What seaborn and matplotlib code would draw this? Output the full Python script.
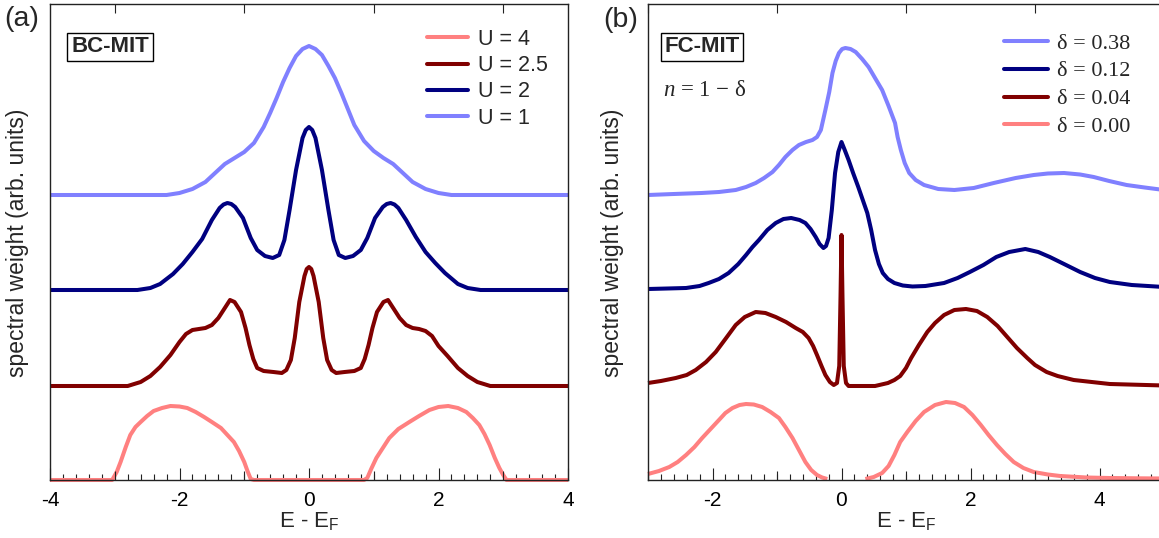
import numpy as np
import pandas as pd
import matplotlib
matplotlib.use("Agg")
import matplotlib.pyplot as plt
from matplotlib.lines import Line2D
from matplotlib.ticker import MultipleLocator, FuncFormatter, NullLocator
import seaborn as sns

# ---------------- data ----------------
# Panel (a): bandwidth-controlled MIT, heights above each curve's baseline
u_labels = ["U = 4", "U = 2.5", "U = 2", "U = 1"]
u_offsets = [0, 94, 190, 285]

u1_x = [-4.0, -2.2, -2.0, -1.8, -1.6, -1.45, -1.3, -1.15, -1.0, -0.85, -0.7, -0.6, -0.5,
        -0.4, -0.3, -0.2, -0.1, 0.0, 0.1, 0.2, 0.3, 0.4, 0.5, 0.6, 0.7, 0.85, 1.0, 1.15,
        1.3, 1.45, 1.6, 1.8, 2.0, 2.2, 4.0]
u1_h = [0, 0, 2, 6, 13, 22, 31, 37, 43, 52, 68, 82, 97, 113, 127, 139, 146, 149, 146,
        140, 129, 117, 102, 86, 70, 54, 44, 37, 31, 22, 13, 6, 2, 0, 0]

u2_x = [-4.0, -2.65, -2.45, -2.3, -2.1, -1.95, -1.8, -1.65, -1.5, -1.38, -1.32, -1.26,
        -1.2, -1.14, -1.02, -0.9, -0.8, -0.68, -0.56, -0.46, -0.38, -0.3, -0.2, -0.1,
        -0.05, 0.0, 0.05, 0.1, 0.2, 0.3, 0.38, 0.46, 0.56, 0.68, 0.8, 0.9, 1.02, 1.14,
        1.2, 1.26, 1.32, 1.38, 1.5, 1.65, 1.8, 1.95, 2.1, 2.3, 2.45, 2.65, 4.0]
u2_h = [0, 0, 2, 6, 16, 26, 38, 51, 70, 82, 85.5, 87, 86, 83, 72, 52, 40, 34, 32, 35, 50,
        80, 120, 152, 160, 163, 160, 152, 120, 80, 50, 35, 32, 34, 40, 52, 72, 83, 86, 87,
        85.5, 82, 70, 53, 38, 27, 17, 6, 2, 0, 0]

u25_x = [-4.0, -2.8, -2.6, -2.45, -2.3, -2.14, -2.0, -1.9, -1.8, -1.7, -1.6, -1.5, -1.4,
         -1.3, -1.22, -1.15, -1.05, -0.98, -0.92, -0.86, -0.8, -0.7, -0.55, -0.42, -0.35,
         -0.28, -0.22, -0.15, -0.07, -0.035, 0.0, 0.035, 0.07, 0.15, 0.22, 0.28, 0.35,
         0.42, 0.55, 0.7, 0.8, 0.86, 0.92, 0.98, 1.05, 1.15, 1.22, 1.3, 1.4, 1.5, 1.6,
         1.7, 1.8, 1.9, 2.0, 2.14, 2.3, 2.45, 2.6, 2.8, 4.0]
u25_h = [0, 0, 4, 10, 19, 31, 44, 52, 56, 57, 58, 61, 68, 78, 86, 84, 74, 58, 41, 27, 18,
         15, 14, 13, 16, 26, 48, 84, 110, 117, 119, 117, 110, 84, 48, 26, 16, 13, 14, 15,
         18, 27, 41, 58, 74, 84, 86, 78, 68, 61, 58, 57, 55, 50, 40, 30, 18, 10, 4, 0, 0]

u4_x = [-4.0, -3.04, -2.97, -2.91, -2.83, -2.76, -2.68, -2.6, -2.5, -2.4, -2.27, -2.14,
        -2.0, -1.88, -1.75, -1.62, -1.5, -1.36, -1.26, -1.16, -1.08, -1.0, -0.95, -0.9,
        -0.85, 0.85, 0.9, 0.96, 1.04, 1.14, 1.24, 1.38, 1.55, 1.7, 1.86, 2.0, 2.15, 2.3,
        2.43, 2.53, 2.63, 2.71, 2.79, 2.87, 2.94, 3.0, 3.05, 4.0]
u4_h = [0, 0, 8, 18, 33, 45, 53, 58, 64, 69, 72, 74, 73.5, 72, 68, 63, 58, 52, 45, 38, 29,
        18, 9, 1, 0, 0, 2, 11, 22, 32, 42, 51, 58, 64, 70, 73, 74, 72, 68, 62, 55, 46, 35,
        22, 12, 5, 0, 0]

# Panel (b): filling-controlled MIT
d_labels = ["\u03b4 = 0.38", "\u03b4 = 0.12", "\u03b4 = 0.04", "\u03b4 = 0.00"]
d_offsets = [285, 190, 94, 0]

d38_x = [-3.0, -2.6, -2.17, -1.9, -1.64, -1.48, -1.33, -1.2, -1.07, -0.97, -0.87, -0.76,
         -0.66, -0.55, -0.45, -0.38, -0.32, -0.25, -0.19, -0.14, -0.09, -0.04, 0.01, 0.06,
         0.14, 0.22, 0.32, 0.42, 0.52, 0.63, 0.73, 0.83, 0.87, 0.92, 0.98, 1.05, 1.15,
         1.28, 1.5, 1.75, 2.05, 2.36, 2.7, 2.98, 3.2, 3.45, 3.7, 3.91, 4.15, 4.42, 4.7, 5.0]
d38_h = [0, 1, 2, 3, 5, 8, 12, 17, 23, 30, 38, 45, 50, 53, 55, 58, 65, 85, 103, 122, 134,
         142, 146, 147, 146, 143, 136, 128, 117, 105, 89, 72, 58, 45, 32, 22, 15, 10, 6, 5,
         7, 12, 17, 20, 21.5, 22, 20.5, 18, 14, 10, 7.5, 5]

d12_x = [-3.0, -2.7, -2.41, -2.2, -2.06, -1.9, -1.75, -1.6, -1.48, -1.38, -1.28, -1.15,
         -1.02, -0.9, -0.78, -0.65, -0.56, -0.48, -0.4, -0.34, -0.28, -0.24, -0.2, -0.15,
         -0.1, -0.05, 0.0, 0.05, 0.11, 0.18, 0.26, 0.33, 0.4, 0.46, 0.52, 0.58, 0.64, 0.72,
         0.82, 0.95, 1.1, 1.3, 1.59, 1.8, 1.99, 2.2, 2.4, 2.6, 2.85, 3.05, 3.23, 3.45, 3.7,
         3.93, 4.16, 4.5, 5.0]
d12_h = [1, 1.5, 2, 4, 7, 11, 17, 26, 35, 43, 50, 60, 67, 71, 72, 70, 67, 61, 53, 46, 42,
         44, 52, 80, 117, 138, 148, 140, 130, 117, 103, 90, 77, 60, 40, 26, 17, 11, 7, 4.5,
         3.5, 4, 7, 12, 18, 25, 33, 38, 41, 38, 33, 26, 18, 12, 8, 5, 3]

d04_x = [-3.0, -2.8, -2.57, -2.4, -2.26, -2.1, -1.95, -1.8, -1.64, -1.5, -1.33, -1.18,
         -1.02, -0.86, -0.71, -0.6, -0.51, -0.44, -0.38, -0.31, -0.25, -0.18, -0.12, -0.07,
         -0.035, -0.015, 0.0, 0.015, 0.035, 0.07, 0.11, 0.3, 0.52, 0.72, 0.82, 0.91, 1.0,
         1.08, 1.2, 1.33, 1.45, 1.59, 1.75, 1.93, 2.1, 2.26, 2.42, 2.57, 2.72, 2.88, 3.0,
         3.18, 3.35, 3.6, 4.16, 5.0]
d04_h = [3, 5, 8, 11, 16, 24, 34, 47, 61, 69, 74, 73, 69, 64, 58, 54, 48, 40, 31, 20, 11,
         4, 1, 3, 20, 90, 151, 90, 20, 3, 0, 0, 0, 3, 6, 10, 18, 28, 41, 54, 63, 71, 76, 77,
         75, 69, 60, 49, 38, 28, 21, 14, 10, 6, 2, 0.5]

d00_x = [-3.0, -2.83, -2.67, -2.54, -2.41, -2.28, -2.16, -2.03, -1.9, -1.8, -1.69, -1.58,
         -1.48, -1.36, -1.23, -1.1, -0.97, -0.87, -0.76, -0.66, -0.56, -0.47, -0.38, -0.3,
         -0.22, 0.05, 0.37, 0.5, 0.63, 0.73, 0.82, 0.91, 1.02, 1.15, 1.28, 1.45, 1.62, 1.76,
         1.9, 2.03, 2.16, 2.28, 2.41, 2.54, 2.67, 2.82, 2.98, 3.2, 3.39, 3.8, 4.16, 4.6, 5.0]
d00_h = [6, 9, 13, 18, 25, 33, 42, 51, 60, 67, 72, 75, 76, 75.5, 73, 68, 62, 53, 42, 30,
         18, 10, 5, 2.5, 1, np.nan, 1, 3, 7, 14, 25, 38, 48, 59, 68, 75, 78, 77, 73, 65, 55,
         45, 35, 26, 18, 12, 8, 5.5, 4, 2.5, 2, 1.7, 1.5]

c_light = "#8080FF"
c_navy = "#000080"
c_dred = "#800000"
c_pink = "#FF8080"

# ---------------- style ----------------
sns.set_theme(style="white")
plt.rcParams.update({
    "font.family": ["Liberation Sans", "DejaVu Sans"],
    "mathtext.fontset": "custom",
    "mathtext.rm": "Liberation Sans",
    "mathtext.it": "Liberation Serif:italic",
    "mathtext.bf": "Liberation Sans:bold",
    "axes.linewidth": 1.0,
    "axes.edgecolor": "#222222",
})

W, H = 1159, 538
fig = plt.figure(figsize=(W / 100, H / 100), dpi=100)
ax1 = fig.add_axes([50 / W, 1 - 480 / H, 518 / W, 476 / H])
ax2 = fig.add_axes([648 / W, 1 - 480 / H, 516 / W, 476 / H])

LW = 2.9


def draw(ax, x, h, off, color):
    h = np.asarray(h, dtype=float)
    seg = np.cumsum(np.isnan(h))
    df = pd.DataFrame({"E": x, "A": h + off, "seg": seg}).dropna()
    sns.lineplot(data=df, x="E", y="A", units="seg", estimator=None, sort=False,
                 color=color, lw=LW, ax=ax, legend=False, clip_on=False,
                 solid_joinstyle="round", solid_capstyle="butt")


a_curves = [(u4_x, u4_h, c_pink), (u25_x, u25_h, c_dred), (u2_x, u2_h, c_navy),
            (u1_x, u1_h, c_light)]
for (x, h, c), off in zip(a_curves, u_offsets):
    draw(ax1, x, h, off, c)

b_curves = [(d38_x, d38_h, c_light), (d12_x, d12_h, c_navy), (d04_x, d04_h, c_dred),
            (d00_x, d00_h, c_pink)]
for (x, h, c), off in zip(b_curves, d_offsets):
    draw(ax2, x, h, off, c)


def style_axis(ax, lo, hi):
    ax.set_xlim(lo, hi)
    ax.set_ylim(0, 476)
    ax.set_yticks([])
    ax.set_xlabel("")
    ax.set_ylabel("")
    ax.xaxis.set_major_locator(MultipleLocator(2))
    ax.xaxis.set_minor_locator(MultipleLocator(0.2))
    ax.xaxis.set_major_formatter(FuncFormatter(lambda v, p: f"{v:.0f}"))
    ax.tick_params(axis="x", which="both", direction="in", top=True, bottom=True,
                   width=0.8, color="#222222", labelsize=15, pad=8, labelcolor="black")
    ax.tick_params(axis="x", which="major", length=8.6)
    ax.tick_params(axis="x", which="minor", length=4.3)
    for s in ax.spines.values():
        s.set_color("#222222")
    # medium ticks at odd integers
    t = ax.twiny()
    t.set_xlim(lo, hi)
    odd = np.arange(np.ceil(lo), hi + 0.01, 1.0)
    t.set_xticks([v for v in odd if int(round(v)) % 2 != 0])
    t.xaxis.set_minor_locator(NullLocator())
    t.tick_params(axis="x", direction="in", top=True, bottom=True, labeltop=False,
                  labelbottom=False, length=6.5, width=0.8, color="#222222")
    t.set_yticks([])
    for s in t.spines.values():
        s.set_visible(False)
    return t


style_axis(ax1, -4, 4)
style_axis(ax2, -3, 5)
ax2.spines["right"].set_visible(False)

# legends
h1 = [Line2D([], [], color=c, lw=LW) for _, _, c in a_curves]
ax1.legend(h1, u_labels, loc="upper left", bbox_to_anchor=((427 - 50) / 518, (480 - 29) / 476),
           frameon=False, fontsize=15.5, handlelength=1.9, handletextpad=0.45,
           labelspacing=0.24, borderpad=0, borderaxespad=0)
h2 = [Line2D([], [], color=c, lw=LW) for _, _, c in b_curves]
ax2.legend(h2, d_labels, loc="upper left", bbox_to_anchor=((1004 - 648) / 516, (480 - 33) / 476),
           frameon=False, handlelength=2.0, handletextpad=0.4, labelspacing=0.33,
           borderpad=0, borderaxespad=0,
           prop={"family": ["Liberation Serif", "DejaVu Serif"], "size": 16})

# boxed labels
box = dict(boxstyle="square,pad=0.17", fc="white", ec="black", lw=1.0)
fig.text(110 / W, 1 - 47 / H, "BC-MIT", fontsize=16, fontweight="bold", ha="center",
         va="center", bbox=box)
fig.text(702 / W, 1 - 47 / H, "FC-MIT", fontsize=16, fontweight="bold", ha="center",
         va="center", bbox=box)
fig.text(663 / W, 1 - 90 / H, "$n$ = 1 \u2212 \u03b4", fontsize=16.5,
         family=["Liberation Serif", "DejaVu Serif"], ha="left", va="center")

# panel letters
fig.text(4 / W, 1 - 19 / H, "(a)", fontsize=20.5, ha="left", va="center")
fig.text(603 / W, 1 - 20 / H, "(b)", fontsize=20.5, ha="left", va="center")

# axis labels
for xc in (17.6, 612):
    fig.text(xc / W, 1 - 243 / H, "spectral weight (arb. units)", fontsize=16.5,
             rotation=90, ha="center", va="center")
fig.text(309 / W, 1 - 527 / H, r"E - E$_\mathrm{F}$", fontsize=16, ha="center",
         va="baseline")
fig.text(906 / W, 1 - 527 / H, r"E - E$_\mathrm{F}$", fontsize=16, ha="center",
         va="baseline")

fig.savefig("out.png", dpi=100)
